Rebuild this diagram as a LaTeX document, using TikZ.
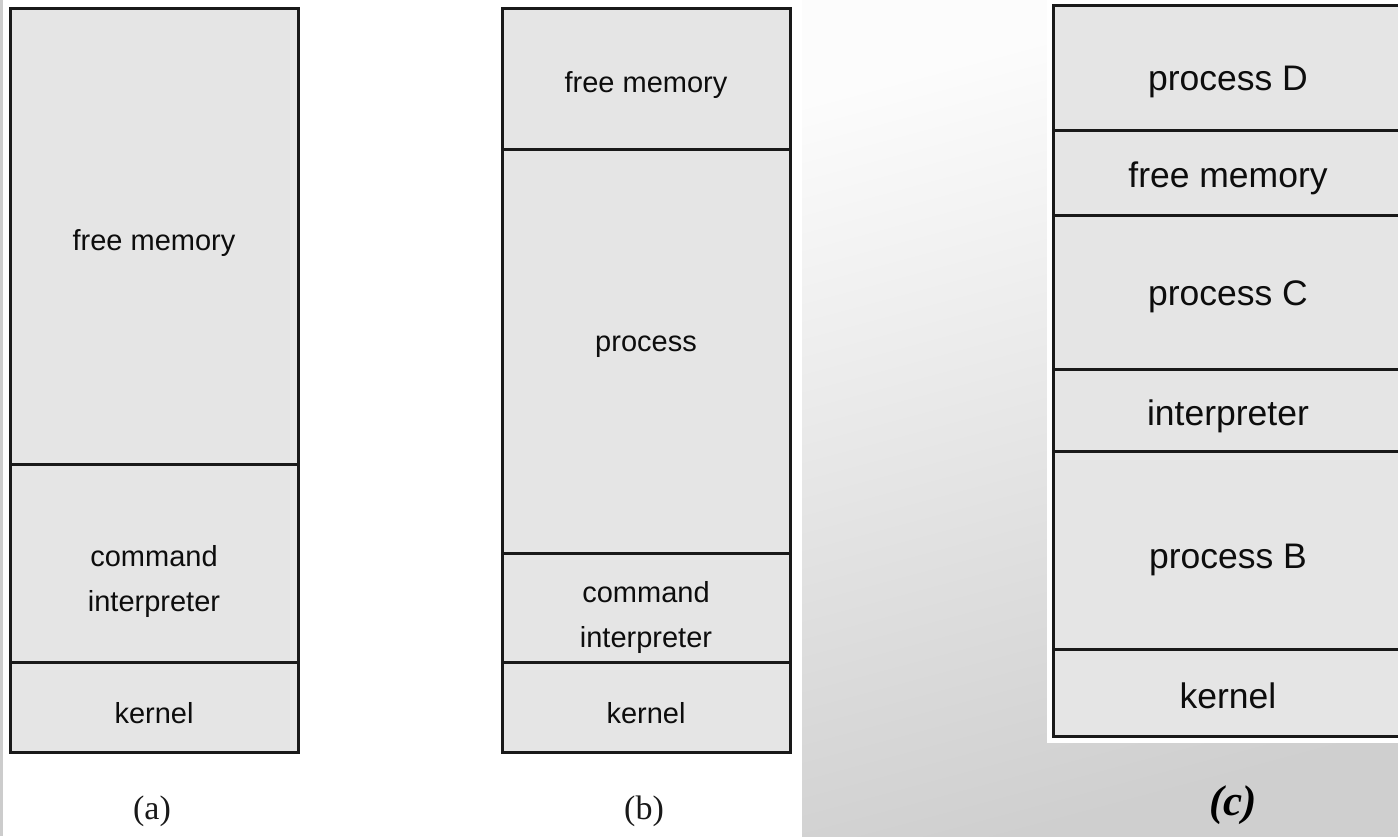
\documentclass[tikz,border=0pt]{standalone}
\usepackage{fontspec}
\newfontfamily\arialf{Liberation Sans}
\newfontfamily\timesf{Liberation Serif}
\begin{document}
\begin{tikzpicture}[x=1pt,y=-1pt,
  seg/.style={draw=black!90, fill=black!10, line width=3pt, rectangle, inner sep=0pt, outer sep=0pt, anchor=north west},
  txt/.style={font=\arialf\fontsize{29}{45}\selectfont, text=black!95, anchor=base, inner sep=0pt, align=center},
  txtc/.style={txt, font=\arialf\fontsize{35.5}{42}\selectfont},
  capt/.style={font=\timesf\fontsize{34}{38}\selectfont, text=black!90, anchor=base, inner sep=0pt},
  captc/.style={font=\timesf\bfseries\itshape\fontsize{43}{46}\selectfont, text=black, anchor=base, inner sep=0pt}]
\useasboundingbox (0,0) rectangle (1398,836);
\clip (0,0) rectangle (1398,836);
\fill[white] (0,0) rectangle (1398,836);
\fill[black!20] (0,0) rectangle (3,836);
\shade[top color=black!1, bottom color=black!19, shading angle=15] (802,0) rectangle (1398,836);
% (a)
\node[seg, minimum width=288pt, minimum height=456pt] (a1) at (10,8) {};
\node[seg, minimum width=288pt, minimum height=198pt] (a2) at (10,464) {};
\node[seg, minimum width=288pt, minimum height=90pt] (a3) at (10,662) {};
\node[txt] (ta1) at (154,250) {free memory};
\node[txt] (ta2) at (154,611) {command\\interpreter};
\node[txt] (ta3) at (154,723) {kernel};
\node[capt] (capa) at (152,819) {(a)};
% (b)
\node[seg, minimum width=288pt, minimum height=141pt] (b1) at (502,8) {};
\node[seg, minimum width=288pt, minimum height=404pt] (b2) at (502,149) {};
\node[seg, minimum width=288pt, minimum height=109pt] (b3) at (502,553) {};
\node[seg, minimum width=288pt, minimum height=90pt] (b4) at (502,662) {};
\node[txt] (tb1) at (646,92) {free memory};
\node[txt] (tb2) at (646,351) {process};
\node[txt] (tb3) at (646,647) {command\\interpreter};
\node[txt] (tb4) at (646,723) {kernel};
\node[capt] (capb) at (644,819) {(b)};
% (c)
\fill[white] (1047,0) rectangle (1398,743);
\node[seg, minimum width=350pt, minimum height=125pt] (c1) at (1053,5) {};
\node[seg, minimum width=350pt, minimum height=85pt] (c2) at (1053,130) {};
\node[seg, minimum width=350pt, minimum height=154pt] (c3) at (1053,215) {};
\node[seg, minimum width=350pt, minimum height=82pt] (c4) at (1053,369) {};
\node[seg, minimum width=350pt, minimum height=198pt] (c5) at (1053,451) {};
\node[seg, minimum width=350pt, minimum height=87pt] (c6) at (1053,649) {};
\node[txtc] (tc1) at (1228,90) {process D};
\node[txtc] (tc2) at (1228,187) {free memory};
\node[txtc] (tc3) at (1228,305) {process C};
\node[txtc] (tc4) at (1228,425) {interpreter};
\node[txtc] (tc5) at (1228,568) {process B};
\node[txtc] (tc6) at (1228,708) {kernel};
\node[captc] (capc) at (1233,815) {(c)};
\end{tikzpicture}
\end{document}
